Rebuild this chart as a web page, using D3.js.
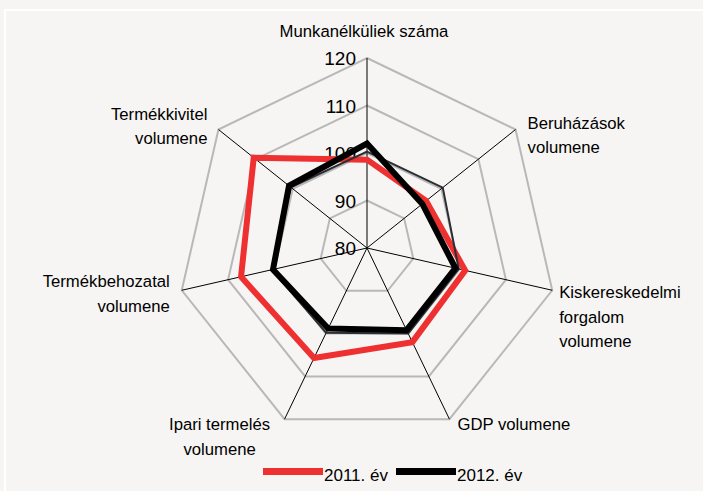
<!DOCTYPE html>
<html>
<head>
<meta charset="utf-8" />
<title>Radar | D3</title>
<style>
body { margin: 0; background: #f6f5f3; }
svg { display: block; font-family: "Liberation Sans", Arial, sans-serif; }
</style>
<script src="https://d3js.org/d3.v7.min.js"></script>
</head>
<body>
<script>
// axes clockwise from top
var axes = ["Munkanélküliek száma", "Beruházások volumene", "Kiskereskedelmi forgalom volumene",
  "GDP volumene", "Ipari termelés volumene", "Termékbehozatal volumene", "Termékkivitel volumene"];
var axisLines = [["Munkanélküliek száma"], ["Beruházások", "volumene"], ["Kiskereskedelmi", "forgalom", "volumene"],
  ["GDP volumene"], ["Ipari termelés", "volumene"], ["Termékbehozatal", "volumene"], ["Termékkivitel", "volumene"]];
var ticks = [80, 90, 100, 110, 120];
var v2011 = [98.6, 95.9, 101.2, 102.0, 105.7, 107.2, 110.5];
var v2012 = [102.0, 94.9, 99.1, 99.2, 98.8, 100.3, 101.0];
var vThin = [100.3, 100.4, 99.8, 100.0, 99.8, 100.6, 100.5];
var seriesNames = ["2011. év", "2012. év"];

var width = 703, height = 491;
var cx = 367, cy = 248;

var svg = d3.select("body").append("svg")
  .attr("width", width).attr("height", height);

svg.append("rect").attr("width", width).attr("height", height).attr("fill", "#f6f5f3");
svg.append("rect").attr("x", 5).attr("y", 10).attr("width", 720).attr("height", 500)
  .attr("fill", "none").attr("stroke", "#ffffff").attr("stroke-width", 2);

var r = d3.scaleLinear().domain([80, 120]).range([0, 190]);
var ang = d3.scalePoint().domain(d3.range(axes.length + 1)).range([0, 2 * Math.PI]);

function pt(i, v) {
  var a = ang(i);
  return [cx + r(v) * Math.sin(a), cy - r(v) * Math.cos(a)];
}

var g = svg.append("g");

// grid rings
g.selectAll(".ring").data(ticks.slice(1)).enter().append("path")
  .attr("fill", "none").attr("stroke", "#b8b8b8").attr("stroke-width", 2)
  .attr("d", function(t) {
    return d3.line()(axes.map(function(a, i) { return pt(i, t); })) + "Z";
  });

// spokes
g.selectAll(".spoke").data(axes).enter().append("line")
  .attr("x1", cx).attr("y1", cy)
  .attr("x2", function(d, i) { return pt(i, 120)[0]; })
  .attr("y2", function(d, i) { return pt(i, 120)[1]; })
  .attr("stroke", "#000").attr("stroke-width", 1);

// tick labels (under the series)
g.selectAll(".tick").data(ticks).enter().append("text")
  .attr("x", cx - 11).attr("y", function(t) { return cy - r(t) + 7; })
  .attr("text-anchor", "end").attr("font-size", "19px").attr("fill", "#000")
  .text(function(t) { return t; });

// series
function poly(vals) {
  return d3.line()(vals.map(function(v, i) { return pt(i, v); })) + "Z";
}
g.append("path").attr("d", poly(v2011)).attr("fill", "none")
  .attr("stroke", "#ef3030").attr("stroke-width", 6).attr("stroke-linejoin", "miter");
g.append("path").attr("d", poly(vThin)).attr("fill", "none")
  .attr("stroke", "#2b2e33").attr("stroke-width", 2);
g.append("path").attr("d", poly(v2012)).attr("fill", "none")
  .attr("stroke", "#000").attr("stroke-width", 6).attr("stroke-linejoin", "miter");

// axis labels: offset from the outer vertex
var lab = [
  { dx: -3, dy: -21, anchor: "middle" },
  { dx: 12, dy: -1, anchor: "start" },
  { dx: 7, dy: 8, anchor: "start" },
  { dx: 8, dy: 11, anchor: "start" },
  { dx: -65, dy: 11, anchor: "middle" },
  { dx: -12, dy: -3, anchor: "end" },
  { dx: -11, dy: -10, anchor: "end" }
];
axisLines.forEach(function(lines, i) {
  var p = pt(i, 120);
  var t = svg.append("text").attr("font-size", "16.7px").attr("fill", "#000")
    .attr("text-anchor", lab[i].anchor);
  lines.forEach(function(s, k) {
    t.append("tspan").attr("x", p[0] + lab[i].dx).attr("y", p[1] + lab[i].dy + k * 24.5).text(s);
  });
});

// legend
var legColors = ["#ef3030", "#000"];
var legX = d3.scaleOrdinal().domain(seriesNames).range([263, 396]);
var leg = svg.selectAll(".leg").data(seriesNames).enter().append("g");
leg.append("rect").attr("x", function(d) { return legX(d); }).attr("y", 468)
  .attr("width", 60).attr("height", 7).attr("fill", function(d, i) { return legColors[i]; });
leg.append("text").attr("x", function(d) { return legX(d) + 61; }).attr("y", 481)
  .attr("font-size", "17px").attr("fill", "#000").text(function(d) { return d; });
</script>
</body>
</html>
